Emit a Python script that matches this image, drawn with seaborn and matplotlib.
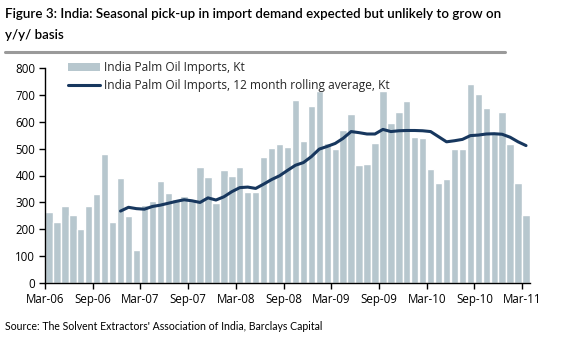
import matplotlib
matplotlib.use("Agg")
import matplotlib.pyplot as plt
import seaborn as sns
import numpy as np
import pandas as pd
from matplotlib.lines import Line2D
from matplotlib.patches import Patch

# ---------------- data ----------------
# Monthly India palm oil imports, Kt, Mar-06 .. Mar-11
imports = [
    264, 229, 285, 255, 200, 285, 333, 478, 229, 392, 249, 125,   # Mar-06 .. Feb-07
    290, 305, 381, 335, 313, 325, 307, 430, 395, 297, 419, 399,   # Mar-07 .. Feb-08
    430, 340, 340, 470, 503, 516, 505, 682, 528, 657, 714, 522,   # Mar-08 .. Feb-09
    500, 569, 629, 438, 442, 519, 713, 596, 636, 677, 543, 540,   # Mar-09 .. Feb-10
    424, 373, 386, 500, 500, 741, 701, 649, 556, 634, 518, 372,   # Mar-10 .. Feb-11
    255,                                                          # Mar-11
]
# 12 month rolling average, Kt, Dec-06 .. Mar-11
rolling_start = 9
rolling = [
    268, 282, 277,
    275, 285, 290, 297, 304, 310, 306, 300, 317, 309, 321, 340,
    355, 357, 352, 368, 385, 399, 419, 438, 448, 470, 498, 508,
    519, 538, 563, 559, 554, 554, 571, 563, 566, 567, 567, 566,
    563, 544, 525, 529, 534, 548, 550, 554, 555, 553, 542, 525, 511,
]
tick_labels = ["Mar-06", "Sep-06", "Mar-07", "Sep-07", "Mar-08", "Sep-08",
               "Mar-09", "Sep-09", "Mar-10", "Sep-10", "Mar-11"]
y_ticks = [0, 100, 200, 300, 400, 500, 600, 700, 800]
bar_label = "India Palm Oil Imports, Kt"
line_label = "India Palm Oil Imports, 12 month rolling average, Kt"
title_1 = "Figure 3: India: Seasonal pick-up in import demand expected but unlikely to grow on"
title_2 = "y/y/ basis"
source = "Source: The Solvent Extractors' Association of India, Barclays Capital"

BAR = "#B7C7CE"
LINE = "#17375E"

# ---------------- style ----------------
sns.set_theme(style="ticks")
plt.rcParams["font.family"] = ["Open Sans", "DejaVu Sans"]

W, H = 578, 346
fig = plt.figure(figsize=(W / 100, H / 100), dpi=100)
fig.patch.set_facecolor("white")

ax_l, ax_r, ax_t, ax_b = 45, 530, 67.7, 283.3
ax = fig.add_axes([ax_l / W, (H - ax_b) / H, (ax_r - ax_l) / W, (ax_b - ax_t) / H])
ax.set_facecolor("white")

bars_df = pd.DataFrame({"pos": np.arange(len(imports)), "imports": imports})
line_df = pd.DataFrame({"pos": np.arange(rolling_start, rolling_start + len(rolling)),
                        "rolling": rolling})

sns.barplot(data=bars_df, x="pos", y="imports", native_scale=True, color=BAR,
            saturation=1, width=0.93, errorbar=None, ax=ax, zorder=1)
sns.lineplot(data=line_df, x="pos", y="rolling", color=LINE, linewidth=2.2,
             ax=ax, zorder=3)

ax.set_xlim(-0.5, len(imports) - 0.5)
ax.set_ylim(0, 800)
ax.set_xticks(np.arange(0, len(imports), 6) - 0.5)
ax.set_xticklabels(tick_labels)
ax.set_yticks(y_ticks)
ax.set_yticklabels([str(v) for v in y_ticks])
ax.set_xlabel("")
ax.set_ylabel("")
for s in ["top", "right"]:
    ax.spines[s].set_visible(False)
for s in ["left", "bottom"]:
    ax.spines[s].set_color("black")
    ax.spines[s].set_linewidth(1.0)
ax.tick_params(axis="both", direction="out", length=4, width=1, color="black",
               labelsize=8.3, labelcolor="black", pad=3)

handles = [Patch(facecolor=BAR, edgecolor="none"),
           Line2D([0], [0], color=LINE, linewidth=2.2)]
ax.legend(handles, [bar_label, line_label], loc="upper left",
          bbox_to_anchor=((68 - ax_l) / (ax_r - ax_l), (ax_b - 61) / (ax_b - ax_t)),
          frameon=False, fontsize=8.6, handlelength=2.7, handletextpad=0.3,
          labelspacing=0.4, borderaxespad=0, borderpad=0)

# ---------------- titles ----------------
fig.text(5 / W, 1 - 14 / H, title_1, fontsize=9.6, fontweight="semibold",
         va="center", ha="left", color="black", family=["Lato", "DejaVu Sans"])
fig.text(5 / W, 1 - 35 / H, title_2, fontsize=9.6, fontweight="semibold",
         va="center", ha="left", color="black", family=["Lato", "DejaVu Sans"])
fig.add_artist(Line2D([5 / W, 505 / W], [1 - 52 / H, 1 - 52 / H],
                      color="#9A9A9A", linewidth=2.2, transform=fig.transFigure))
fig.text(5 / W, 1 - 326 / H, source, fontsize=7.6, va="center", ha="left",
         color="black", family=["Lato", "DejaVu Sans"])

fig.savefig("out.png", dpi=100, facecolor="white")
